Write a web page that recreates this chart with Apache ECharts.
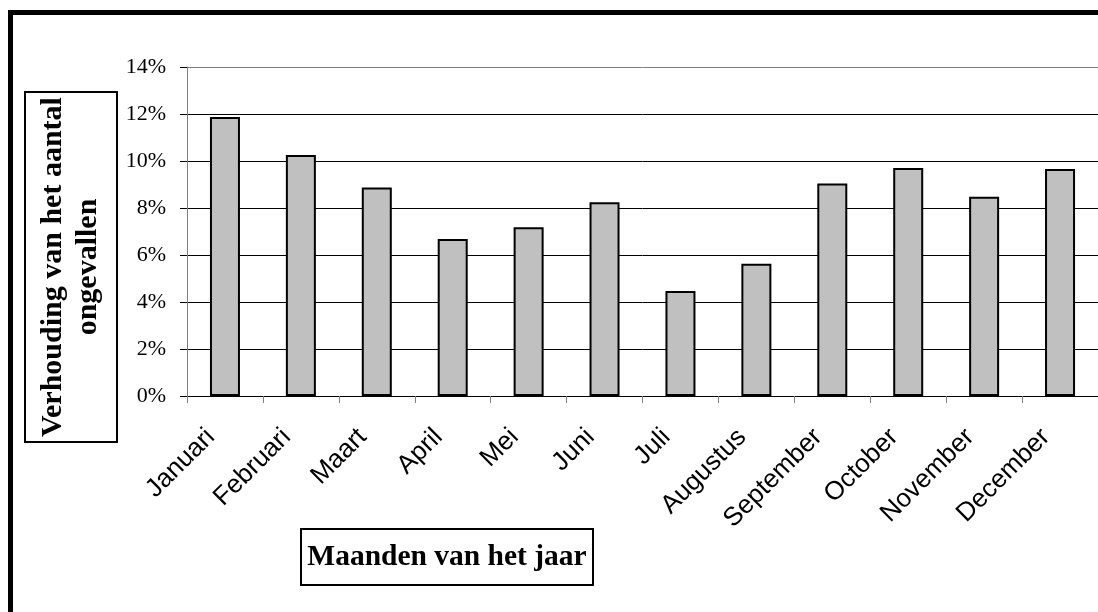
<!DOCTYPE html>
<html><head><meta charset="utf-8">
<script src="https://cdn.jsdelivr.net/npm/echarts@6/dist/echarts.min.js"></script>
<style>html,body{margin:0;padding:0;background:#fff}#c{width:1098px;height:612px}</style>
</head><body><div id="c"></div>
<script>
const categories = ['Januari','Februari','Maart','April','Mei','Juni','Juli','Augustus','September','October','November','December'];
const values = [11.87, 10.26, 8.87, 6.68, 7.18, 8.25, 4.47, 5.63, 9.04, 9.70, 8.48, 9.66];
const yTicks = [0, 2, 4, 6, 8, 10, 12, 14];
const yTitleLines = ['Verhouding van het aantal', 'ongevallen'];
const xTitle = 'Maanden van het jaar';

const chart = echarts.init(document.getElementById('c'), null, {renderer: 'canvas'});
const splitColors = yTicks.map((t, i) => i === yTicks.length - 1 ? '#808080' : '#000000');
chart.setOption({
  animation: false,
  backgroundColor: '#ffffff',
  grid: {left: 187, right: 0, top: 67, bottom: 216, containLabel: false, outerBoundsMode: 'none'},
  xAxis: {
    type: 'category',
    data: categories,
    boundaryGap: true,
    axisLine: {show: true, lineStyle: {color: '#000', width: 1}},
    axisTick: {show: true, alignWithLabel: false, length: 7, lineStyle: {color: '#808080', width: 1}},
    axisLabel: {interval: 0, rotate: 45, margin: 23, padding: [0, 20, 0, 0], color: '#000', fontFamily: 'Liberation Sans, Arial, sans-serif', fontSize: 26}
  },
  yAxis: {
    type: 'value',
    min: yTicks[0], max: yTicks[yTicks.length - 1], interval: yTicks[1] - yTicks[0],
    axisLine: {show: true, lineStyle: {color: '#808080', width: 1}},
    axisTick: {show: true, length: 7, lineStyle: {color: '#000', width: 1}},
    axisLabel: {formatter: '{value}%', margin: 21, color: '#000', fontFamily: 'Liberation Serif, Times New Roman, serif', fontSize: 22},
    splitLine: {show: true, lineStyle: {color: splitColors, width: 1}}
  },
  series: [{
    type: 'bar',
    data: values,
    barWidth: 30,
    itemStyle: {color: '#C0C0C0', borderColor: '#000', borderWidth: 2}
  }],
  graphic: [
    {type: 'rect', shape: {x: 10.5, y: 12.5, width: 1200, height: 700}, style: {fill: 'none', stroke: '#000', lineWidth: 5}, z: 100},
    {type: 'rect', shape: {x: 25, y: 92, width: 92, height: 350}, style: {fill: '#fff', stroke: '#000', lineWidth: 2}, z: 100},
    {type: 'text', x: 71, y: 267, rotation: Math.PI / 2, z: 101,
      style: {text: yTitleLines.join('\n'), x: 0, y: 0, align: 'center', verticalAlign: 'middle', lineHeight: 35,
        font: 'bold 30px "Liberation Serif", "Times New Roman", serif', fill: '#000'}},
    {type: 'rect', shape: {x: 301, y: 529, width: 292, height: 56}, style: {fill: '#fff', stroke: '#000', lineWidth: 2}, z: 100},
    {type: 'text', x: 447, y: 557, z: 101,
      style: {text: xTitle, x: 0, y: 0, align: 'center', verticalAlign: 'middle',
        font: 'bold 29.5px "Liberation Serif", "Times New Roman", serif', fill: '#000'}}
  ]
});
</script></body></html>
